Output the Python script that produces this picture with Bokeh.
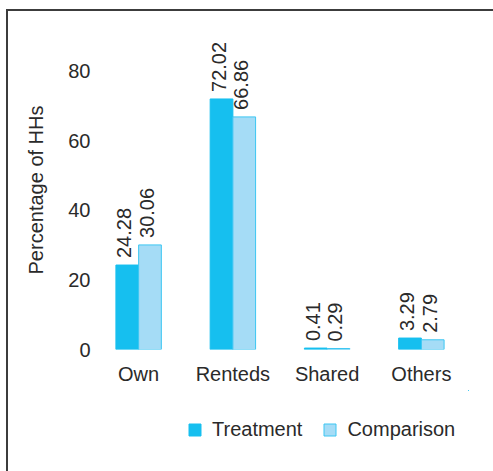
from math import pi
from bokeh.plotting import figure
from bokeh.layouts import column
from bokeh.core.properties import value
from bokeh.models import (ColumnDataSource, FactorRange, FixedTicker, Legend,
                          LegendItem, LabelSet, Range1d)
from bokeh.transform import dodge
from bokeh.embed import file_html
from bokeh.resources import INLINE

categories = ["Own", "Renteds", "Shared", "Others"]
treatment = [24.28, 72.02, 0.41, 3.29]
comparison = [30.06, 66.86, 0.29, 2.79]
series_names = ["Treatment", "Comparison"]
y_ticks = [0, 20, 40, 60, 80]
y_label = "Percentage of HHs"

FONT = "Liberation Sans"
TXT = "#2a2a2a"
C_T = "#16bfef"
C_C = "#a5dcf6"
C_C_LINE = "#3cc6f2"
BORDER = "#3c3c3c"

src = ColumnDataSource(dict(
    cat=categories,
    t=treatment,
    c=comparison,
    tl=[f"{v:.2f}" for v in treatment],
    cl=[f"{v:.2f}" for v in comparison],
))

W = 493
p = figure(width=W, height=390, x_range=FactorRange(*categories),
           y_range=Range1d(0, 91.7), output_backend="svg",
           toolbar_location=None, min_border_left=91, min_border_right=25,
           min_border_top=30, min_border_bottom=41)
p.border_fill_color = None
p.styles = {
    "background-color": "white",
    "background-image": f"linear-gradient({BORDER},{BORDER}), linear-gradient({BORDER},{BORDER})",
    "background-size": "2px 100%, 100% 2px",
    "background-position": "6px 9px, 6px 9px",
    "background-repeat": "no-repeat",
}

off = 0.1205
bw = 0.241
r1 = p.vbar(x=dodge("cat", -off, range=p.x_range), top="t", width=bw,
            source=src, fill_color=C_T, line_color=C_T, line_width=1)
r2 = p.vbar(x=dodge("cat", off, range=p.x_range), top="c", width=bw,
            source=src, fill_color=C_C, line_color=C_C_LINE, line_width=1)

for col, lab, o in (("t", "tl", -off), ("c", "cl", off)):
    ls = LabelSet(x=dodge("cat", o, range=p.x_range), y=col, text=lab,
                  source=src, angle=pi / 2, text_align="left",
                  text_baseline="middle", x_offset=-3, y_offset=7,
                  text_font=value(FONT), text_font_size=value("20px"),
                  text_color=TXT)
    p.add_layout(ls)

p.grid.visible = False
p.outline_line_color = None

p.yaxis.ticker = FixedTicker(ticks=y_ticks)
p.yaxis.axis_label = y_label
p.yaxis.axis_label_standoff = 18
p.yaxis.major_label_standoff = 1
for ax in (p.xaxis, p.yaxis):
    ax.axis_line_color = None
    ax.major_tick_line_color = None
    ax.minor_tick_line_color = None
    ax.major_tick_out = 0
    ax.major_tick_in = 0
    ax.major_label_text_font = FONT
    ax.major_label_text_font_size = "20px"
    ax.major_label_text_color = TXT
    ax.axis_label_text_font = FONT
    ax.axis_label_text_font_size = "20px"
    ax.axis_label_text_font_style = "normal"
    ax.axis_label_text_color = TXT
p.xaxis.major_label_standoff = 13

# legend strip below the chart; its proxy bars lie outside its ranges
p2 = figure(width=W, height=81, x_range=Range1d(-2, -1), y_range=Range1d(-2, -1),
            x_axis_type=None, y_axis_type=None, output_backend="svg",
            toolbar_location=None, min_border=0)
p2.border_fill_color = None
p2.outline_line_color = None
p2.grid.visible = False
p2.styles = {
    "background-color": "white",
    "background-image": f"linear-gradient({BORDER},{BORDER})",
    "background-size": "2px 100%",
    "background-position": "6px 0px",
    "background-repeat": "no-repeat",
}
g1 = p2.vbar(x="t", top="t", width=1, source=src,
             fill_color=C_T, line_color=C_T)
g2 = p2.vbar(x="c", top="c", width=1, source=src,
             fill_color=C_C, line_color=C_C_LINE)

legend = Legend(items=[LegendItem(label=series_names[0], renderers=[g1]),
                       LegendItem(label=series_names[1], renderers=[g2])],
                orientation="horizontal", location=(96, 30),
                glyph_width=15, glyph_height=15, label_standoff=10,
                spacing=20, padding=0, margin=0, border_line_color=None,
                background_fill_alpha=0, label_text_font=FONT,
                label_text_font_size="20px", label_text_color=TXT)
p2.add_layout(legend, "center")

layout = column(p, p2, spacing=0)
open("out.html", "w").write(file_html(layout, INLINE))
